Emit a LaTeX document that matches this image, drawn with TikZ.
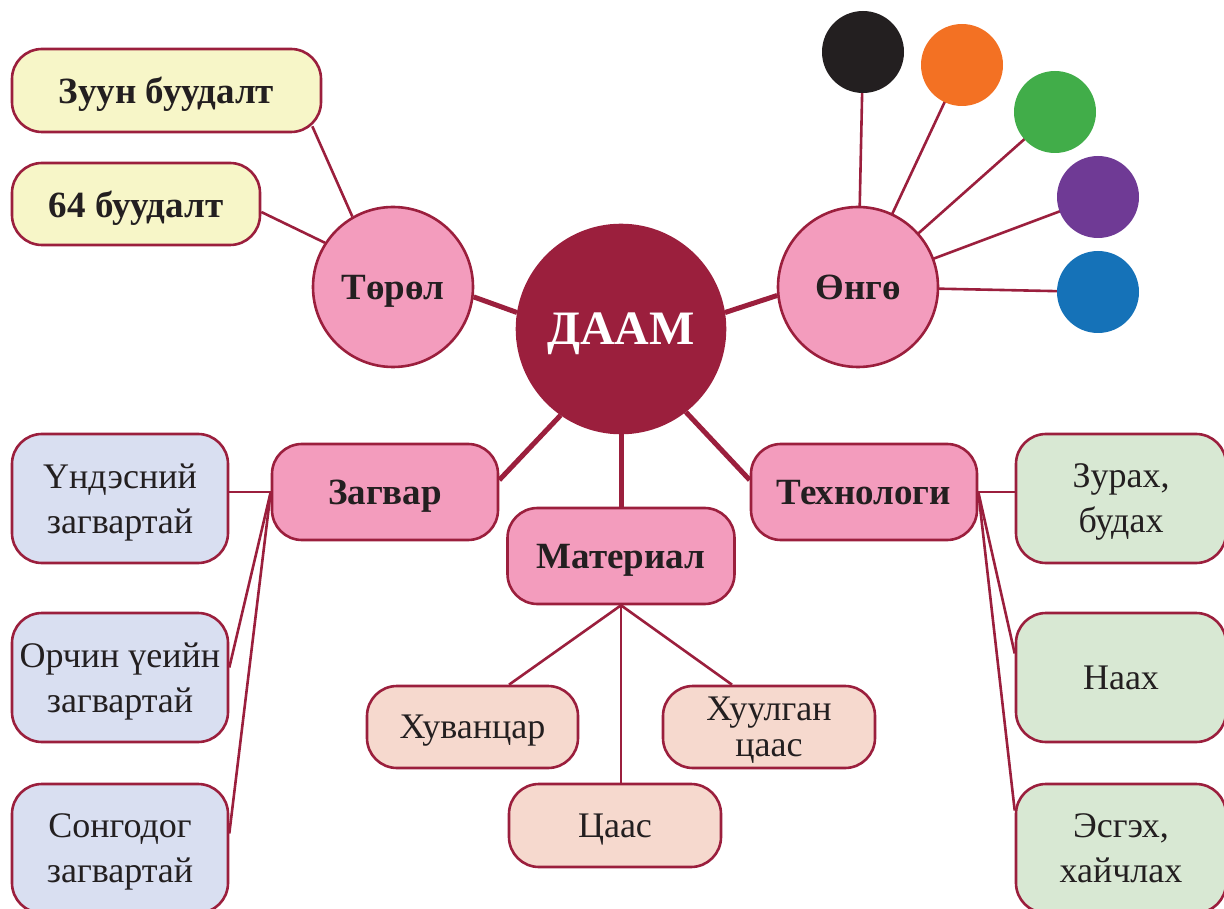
\documentclass[tikz,border=0pt]{standalone}
\usepackage{fontspec}
\setmainfont{Liberation Serif}
\usetikzlibrary{calc,backgrounds}
\definecolor{dred}{HTML}{9B1F3D}
\definecolor{txt}{HTML}{231F20}
\definecolor{cpink}{HTML}{F39CBD}
\definecolor{cyel}{HTML}{F7F6C8}
\definecolor{clav}{HTML}{D9DFF1}
\definecolor{cpeach}{HTML}{F6D9CE}
\definecolor{cgreen}{HTML}{D8E8D3}
\definecolor{dblack}{HTML}{231F20}
\definecolor{dorange}{HTML}{F37123}
\definecolor{dgreen}{HTML}{41AD49}
\definecolor{dpurple}{HTML}{6F3A95}
\definecolor{dblue}{HTML}{1572B8}
\begin{document}
\begin{tikzpicture}[x=1pt,y=-1pt,
  base/.style={draw=dred, line width=2.6pt, text=txt, align=center, inner sep=0pt, text depth=0pt},
  rbox/.style={base, rectangle, rounded corners=30pt},
  circ/.style={base, circle},
  bigt/.style={font=\fontsize{37}{44}\selectfont\bfseries},
  smt/.style={font=\fontsize{36}{45}\selectfont},
  thinl/.style={draw=dred, line width=2.6pt},
  thickl/.style={draw=dred, line width=5pt},
  dotc/.style={circle, minimum size=82pt, inner sep=0pt}
]
\useasboundingbox (0,0) rectangle (1224,909);
\clip (0,0) rectangle (1224,909);

% level 1
\node[circ, fill=dred, font=\fontsize{48}{50}\selectfont\bfseries, text=white, minimum size=208pt] (daam) at (621,329) {ДААМ};
\node[circ, fill=cpink, bigt, minimum size=160pt] (torol) at (393,287) {Төрөл};
\node[circ, fill=cpink, bigt, minimum size=160pt] (ongo) at (858,287) {Өнгө};
\node[rbox, fill=cpink, bigt, minimum width=226pt, minimum height=96pt] (zagvar) at (385,492) {Загвар};
\node[rbox, fill=cpink, bigt, minimum width=227pt, minimum height=96pt] (mat) at (621,556) {Материал};
\node[rbox, fill=cpink, bigt, minimum width=226pt, minimum height=96pt] (tech) at (864,492) {Технологи};

% Torol children
\node[rbox, fill=cyel, bigt, minimum width=309pt, minimum height=83pt] (zuun) at (166.5,90.5) {Зуун буудалт};
\node[rbox, fill=cyel, bigt, minimum width=248pt, minimum height=82pt] (b64) at (136,204) {64 буудалт};

% Ongo children
\node[dotc, fill=dblack] (cblack) at (863,52) {};
\node[dotc, fill=dorange] (corange) at (962,65) {};
\node[dotc, fill=dgreen] (cgreenn) at (1055,112) {};
\node[dotc, fill=dpurple] (cpurple) at (1098,197) {};
\node[dotc, fill=dblue] (cblue) at (1098,292) {};

% Zagvar children
\node[rbox, fill=clav, smt, minimum width=216pt, minimum height=129pt] (und) at (120,498.5) {Үндэсний\\загвартай};
\node[rbox, fill=clav, smt, minimum width=216pt, minimum height=129pt] (orch) at (120,677.5) {Орчин үеийн\\загвартай};
\node[rbox, fill=clav, smt, minimum width=216pt, minimum height=129pt] (song) at (120,848.5) {Сонгодог\\загвартай};

% Material children
\node[rbox, fill=cpeach, smt, minimum width=211pt, minimum height=82pt] (huv) at (472.5,727) {Хуванцар};
\node[rbox, fill=cpeach, font=\fontsize{36}{36}\selectfont, minimum width=212pt, minimum height=82pt] (hul) at (769,727) {Хуулган\\цаас};
\node[rbox, fill=cpeach, smt, minimum width=212pt, minimum height=83pt] (tsaas) at (615,825.5) {Цаас};

% Tech children
\node[rbox, fill=cgreen, smt, minimum width=210pt, minimum height=129pt] (zurah) at (1121,498.5) {Зурах,\\будах};
\node[rbox, fill=cgreen, smt, minimum width=210pt, minimum height=129pt] (naah) at (1121,677.5) {Наах};
\node[rbox, fill=cgreen, smt, minimum width=210pt, minimum height=129pt] (esgeh) at (1121,848.5) {Эсгэх,\\хайчлах};

\begin{scope}[on background layer]
  % thick main connectors
  \draw[thickl] (daam.171) -- (torol.-7);
  \draw[thickl] (daam.9) -- (ongo.186);
  \draw[thickl] (daam.235) -- ($(zagvar.east)+(0,-12)$);
  \draw[thickl] (daam.south) -- (mat.north);
  \draw[thickl] (daam.-52) -- ($(tech.west)+(0,-12)$);
  % torol
  \draw[thinl] (torol.120) -- ($(zuun.south east)+(-10,-7)$);
  \draw[thinl] (torol.147) -- ($(b64.east)+(0,8)$);
  % ongo
  \draw[thinl] (ongo.center) -- (cblack.center);
  \draw[thinl] (ongo.center) -- (corange.center);
  \draw[thinl] (ongo.center) -- (cgreenn.center);
  \draw[thinl] (ongo.center) -- (cpurple.center);
  \draw[thinl] (ongo.center) -- (cblue.center);
  % zagvar
  \draw[thinl] (zagvar.west) -- (zagvar.west -| und.east);
  \draw[thinl] (zagvar.west) -- ($(orch.east)+(0,-10)$);
  \draw[thinl] (zagvar.west) -- ($(song.east)+(0,-15)$);
  % material
  \draw[thinl] (mat.south) -- ($(huv.north)+(36.5,0)$);
  \draw[thinl] (mat.south) -- ($(hul.north)+(-37,0)$);
  \draw[thinl] (mat.south) -- (mat.south |- tsaas.north);
  % tech
  \draw[thinl] (tech.east) -- (tech.east -| zurah.west);
  \draw[thinl] (tech.east) -- ($(naah.west)+(0,-24)$);
  \draw[thinl] (tech.east) -- ($(esgeh.west)+(0,-38)$);
\end{scope}
\end{tikzpicture}
\end{document}
